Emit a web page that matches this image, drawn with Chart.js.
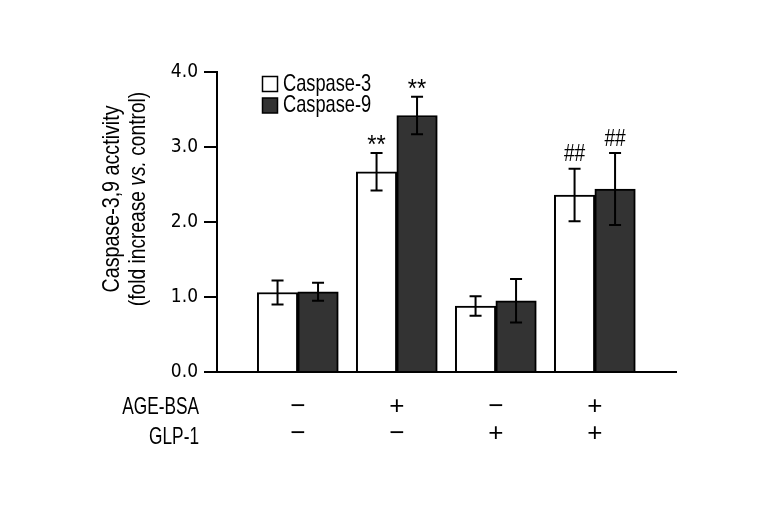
<!DOCTYPE html>
<html>
<head>
<meta charset="utf-8">
<script src="https://cdn.jsdelivr.net/npm/chart.js@4"></script>
<style>
  html, body { margin: 0; padding: 0; background: #fff; }
  #wrap { width: 771px; height: 514px; }
</style>
</head>
<body>
<div id="wrap"><canvas id="chart" width="771" height="514"></canvas></div>
<script>
// data
const ageBsa = ["\u2212", "+", "\u2212", "+"];
const glp1 = ["\u2212", "\u2212", "+", "+"];
const caspase3 = [1.06, 2.67, 0.88, 2.36];
const caspase3Err = [0.16, 0.25, 0.13, 0.35];
const caspase9 = [1.07, 3.42, 0.95, 2.44];
const caspase9Err = [0.12, 0.25, 0.29, 0.48];
const marks3 = ["", "**", "", "##"];
const marks9 = ["", "**", "", "##"];
const yTicks = [0, 1, 2, 3, 4];

const FONT = '"Liberation Sans", Arial, sans-serif';

const toPoints = (vals) => vals.map((v, i) => ({ x: i + 1, y: v }));

// narrow text: the figure uses a condensed face, so squeeze horizontally
function narrowText(ctx, text, x, y, size, squeeze, align, style) {
    ctx.save();
    ctx.font = (style || "") + size + "px " + FONT;
    ctx.textAlign = align;
    ctx.textBaseline = "middle";
    ctx.translate(x, y);
    ctx.scale(squeeze, 1);
    ctx.fillText(text, 0, 0);
    ctx.restore();
}

// error bars, significance marks, legend, row labels and y title
const extras = {
    id: "extras",
    afterDatasetsDraw(chart) {
        const ctx = chart.ctx;
        const y = chart.scales.y;
        const errs = [caspase3Err, caspase9Err];
        const marks = [marks3, marks9];
        ctx.save();
        ctx.strokeStyle = "#000";
        ctx.fillStyle = "#000";
        ctx.lineWidth = 2;
        chart.data.datasets.forEach((ds, di) => {
            chart.getDatasetMeta(di).data.forEach((bar, i) => {
                const v = ds.data[i].y;
                const top = y.getPixelForValue(v + errs[di][i]);
                const bot = y.getPixelForValue(v - errs[di][i]);
                ctx.beginPath();
                ctx.moveTo(bar.x, top); ctx.lineTo(bar.x, bot);
                ctx.moveTo(bar.x - 6, top); ctx.lineTo(bar.x + 6, top);
                ctx.moveTo(bar.x - 6, bot); ctx.lineTo(bar.x + 6, bot);
                ctx.stroke();
                const m = marks[di][i];
                if (m === "**") narrowText(ctx, m, bar.x, top - 7, 25, 0.95, "center");
                else if (m) narrowText(ctx, m, bar.x, top - 14, 24, 0.8, "center");
            });
        });

        // legend
        chart.data.datasets.forEach((ds, di) => {
            const cy = 84 + di * 21.5;
            ctx.fillStyle = ds.backgroundColor;
            ctx.fillRect(262.5, cy - 7.5, 15, 15);
            ctx.lineWidth = 1.5;
            ctx.strokeRect(262.5, cy - 7.5, 15, 15);
            ctx.fillStyle = "#000";
            narrowText(ctx, ds.label, 283, cy, 24, 0.76, "left");
        });

        // treatment rows under the axis
        const m0 = chart.getDatasetMeta(0).data, m1 = chart.getDatasetMeta(1).data;
        const xs = m0.map((b, i) => (b.x + m1[i].x) / 2);
        narrowText(ctx, "AGE-BSA", 199, 407, 24, 0.72, "right");
        narrowText(ctx, "GLP-1", 199, 437, 24, 0.72, "right");
        xs.forEach((x, i) => {
            narrowText(ctx, ageBsa[i], x, 407, 26, 1, "center");
            narrowText(ctx, glp1[i], x, 434, 26, 1, "center");
        });

        // y axis title, two lines, "vs." in italics
        ctx.save();
        ctx.translate(112, 199);
        ctx.rotate(-Math.PI / 2);
        narrowText(ctx, "Caspase-3,9 acctivity", 0, 0, 24, 0.82, "center");
        const parts = [["(fold increase ", ""], ["vs.", "italic "], [" control)", ""]];
        const widths = parts.map(p => {
            ctx.font = p[1] + "24px " + FONT;
            return ctx.measureText(p[0]).width * 0.8;
        });
        let x0 = -widths.reduce((a, b) => a + b, 0) / 2;
        parts.forEach((p, k) => {
            narrowText(ctx, p[0], x0, 26, 24, 0.8, "left", p[1]);
            x0 += widths[k];
        });
        ctx.restore();
        ctx.restore();
    }
};

new Chart(document.getElementById("chart").getContext("2d"), {
    type: "bar",
    data: {
        datasets: [
            {
                label: "Caspase-3",
                data: toPoints(caspase3),
                backgroundColor: "#ffffff",
                borderColor: "#000",
                borderWidth: 2,
            },
            {
                label: "Caspase-9",
                data: toPoints(caspase9),
                backgroundColor: "#333333",
                borderColor: "#000",
                borderWidth: 2,
            },
        ],
    },
    options: {
        responsive: false,
        animation: false,
        barThickness: 40.5,
        layout: { padding: { left: 147, top: 72, right: 95, bottom: 142 } },
        scales: {
            x: {
                type: "linear",
                offset: false,
                min: 0.184,
                max: 4.82,
                ticks: { display: false },
                grid: { display: false },
                border: { color: "#000", width: 2 },
                afterFit: (s) => { s.height = 0; },
            },
            y: {
                min: 0,
                max: 4,
                afterBuildTicks: (s) => { s.ticks = yTicks.map(v => ({ value: v })); },
                afterFit: (s) => { s.width = 70; },
                ticks: {
                    padding: 6,
                    color: "#000",
                    font: { family: '"DejaVu Sans Condensed", sans-serif', size: 19 },
                    callback: (v) => v.toFixed(1),
                },
                grid: { drawOnChartArea: false, tickLength: 13, color: "#000", lineWidth: 2 },
                border: { color: "#000", width: 2 },
            },
        },
        plugins: {
            legend: { display: false },
            tooltip: { enabled: false },
        },
    },
    plugins: [extras],
});
</script>
</body>
</html>
